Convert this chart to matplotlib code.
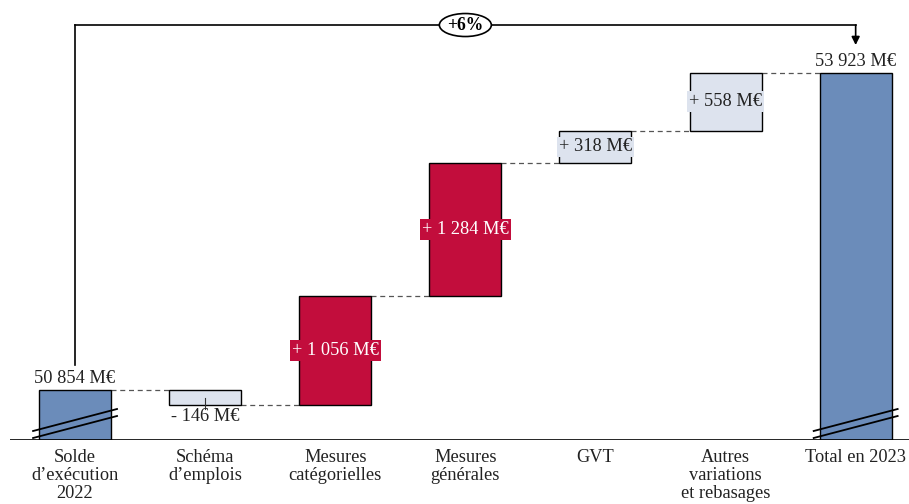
import matplotlib
matplotlib.use("Agg")
import matplotlib.pyplot as plt
from matplotlib.patches import Ellipse
import numpy as np

plt.rcParams['font.family'] = ['Liberation Serif', 'DejaVu Serif']

categories = ["Solde\nd’exécution\n2022", "Schéma\nd’emplois", "Mesures\ncatégorielles",
              "Mesures\ngénérales", "GVT", "Autres\nvariations\net rebasages", "Total en 2023"]
start_value = 50854
deltas = [-146, 1056, 1284, 318, 558]
total_value = 53923
delta_labels = ["- 146 M€", "+ 1 056 M€", "+ 1 284 M€", "+ 318 M€", "+ 558 M€"]
start_label = "50 854 M€"
total_label = "53 923 M€"
growth_label = "+6%"

BLUE = "#6b8cba"
RED = "#c20d3c"
LIGHT = "#dde3ee"
delta_colors = [LIGHT, RED, RED, LIGHT, LIGHT]
text_colors = ["#222222", "white", "white", "#222222", "#222222"]

W, H = 909, 504
fig = plt.figure(figsize=(W / 100, H / 100), dpi=100)
ax = fig.add_axes([10 / W, 64 / H, 899 / W, 440 / H])
y_bottom, y_top = 50370, 54630
ax.set_xlim(-0.5, 6.41)
ax.set_ylim(y_bottom, y_top)
ax.axis("off")

bw = 72 / 130.17
fs = 13.2

# opening and closing bars
for xi, val in ((0, start_value), (6, total_value)):
    ax.bar(xi, val - y_bottom, bottom=y_bottom, width=bw, color=BLUE,
           edgecolor="black", linewidth=1.0, zorder=2)

# intermediate steps
levels = start_value + np.concatenate([[0], np.cumsum(deltas)])
px = 1 / 0.10329
for i, d in enumerate(deltas):
    xi = i + 1
    lo = min(levels[i], levels[i + 1])
    ax.bar(xi, abs(d), bottom=lo, width=bw, color=delta_colors[i],
           edgecolor="black", linewidth=1.0, zorder=2)
    if d < 0:
        ax.plot([xi, xi], [lo + abs(d) * 0.45, lo - 4 * px], color="#333333", lw=0.8, zorder=3)
        ax.text(xi, lo - 3 * px, delta_labels[i], ha="center", va="top", fontsize=fs,
                color=text_colors[i], zorder=4)
    else:
        ax.text(xi, lo + d / 2, delta_labels[i], ha="center", va="center", fontsize=fs,
                color=text_colors[i], zorder=4,
                bbox=dict(boxstyle="square,pad=0.1", facecolor=delta_colors[i],
                          edgecolor="none"))

# dashed connectors
for i in range(6):
    y = levels[i]
    ax.plot([i + bw / 2, i + 1 - bw / 2], [y, y], ls=(0, (4, 3)), color="#555555",
            lw=0.9, zorder=1)

# value labels on the totals
ax.text(0, start_value + 3 * px, start_label, ha="center", va="bottom", fontsize=fs, color="#222222")
ax.text(6, total_value + 3 * px, total_label, ha="center", va="bottom", fontsize=fs, color="#222222")

# axis break marks
for xi in (0, 6):
    x0, x1 = xi - 42 / 130.17, xi + 42 / 130.17
    for off in (0, 7):
        ya = y_bottom + (9 - off) * px
        yb = y_bottom + (31 - off) * px
        ax.plot([x0, x1], [ya, yb], color="black", lw=1.3, zorder=3)

# baseline
ax.axhline(y_bottom, color="black", lw=1.2, zorder=3)

# growth arrow
y_arrow = total_value + 48 * px
ax.plot([0, 0], [start_value + 25 * px, y_arrow], color="black", lw=1.2, zorder=1)
ax.plot([0, 6], [y_arrow, y_arrow], color="black", lw=1.2, zorder=1)
ax.annotate("", xy=(6, total_value + 28 * px), xytext=(6, y_arrow),
            arrowprops=dict(arrowstyle="-|>", color="black", lw=1.2,
                            mutation_scale=12, shrinkA=0, shrinkB=0))
ax.add_patch(Ellipse((3, y_arrow), 52 / 130.17, 23 * px, facecolor="white",
                     edgecolor="black", lw=1.2, zorder=4))
ax.text(3, y_arrow, growth_label, ha="center", va="center", fontsize=fs - 0.5,
        fontweight="bold", zorder=5)

# category labels
for xi, c in enumerate(categories):
    ax.text(xi, y_bottom - 9 * px, c, ha="center", va="top", fontsize=fs,
            linespacing=1.08, color="#222222")

fig.savefig("out.png", dpi=100)
